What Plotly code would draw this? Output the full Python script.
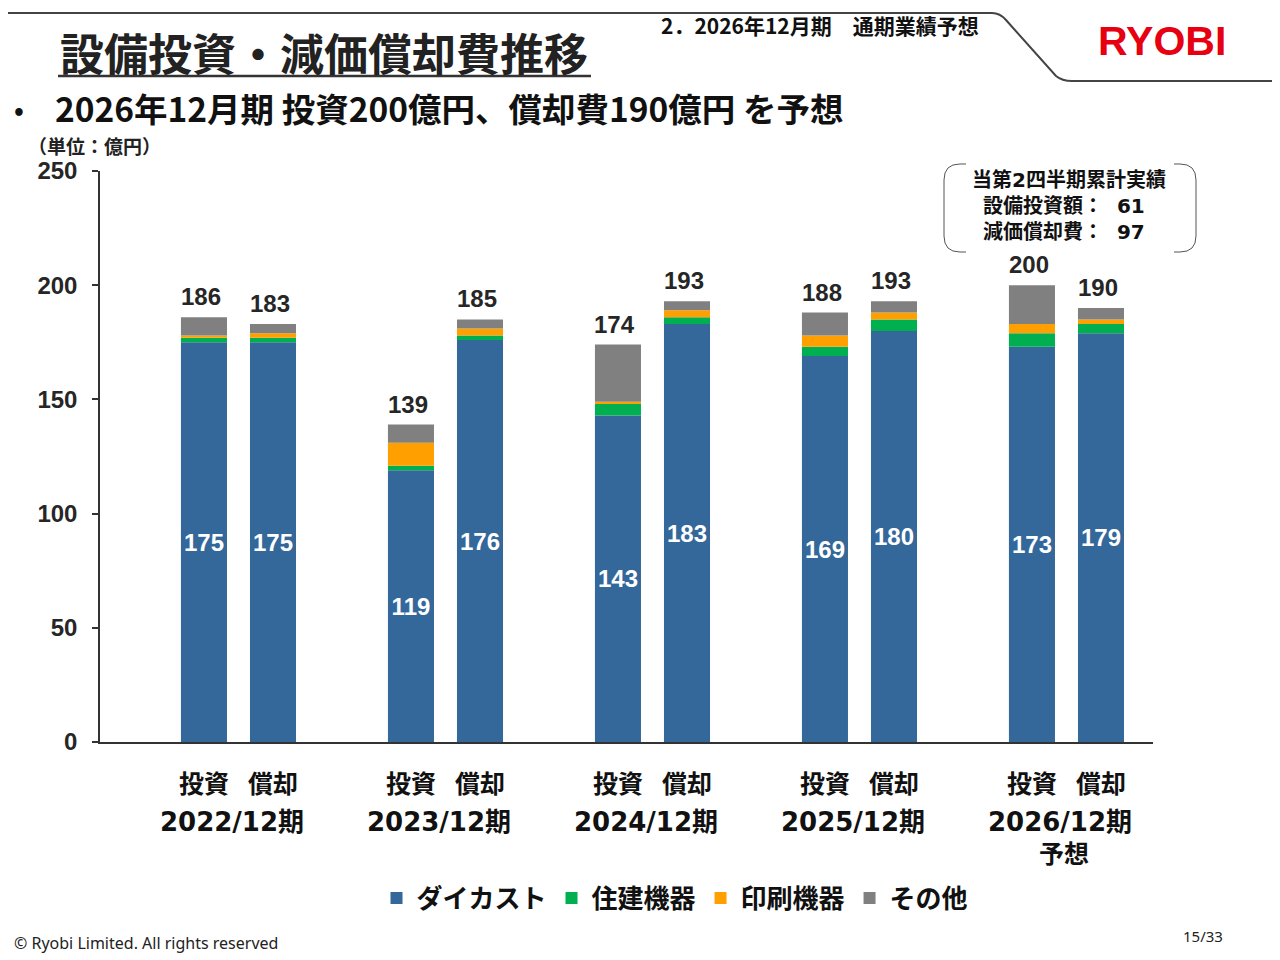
import plotly.graph_objects as go

# ---------------- data ----------------
years = ["2022/12期", "2023/12期", "2024/12期", "2025/12期", "2026/12期"]
year_notes = ["", "", "", "", "予想"]
kinds = ["投資", "償却"]
segments = ["ダイカスト", "住建機器", "印刷機器", "その他"]

inv_diecast = [175, 119, 143, 169, 173]
inv_housing = [2, 2, 5, 4, 6]
inv_printing = [1, 10, 1, 5, 4]
inv_other = [8, 8, 25, 10, 17]
inv_total = [186, 139, 174, 188, 200]

dep_diecast = [175, 176, 183, 180, 179]
dep_housing = [2, 2, 3, 5, 4]
dep_printing = [2, 3, 3, 3, 2]
dep_other = [4, 4, 4, 5, 5]
dep_total = [183, 185, 193, 193, 190]

y_ticks = [0, 50, 100, 150, 200, 250]

box_lines = ["当第2四半期累計実績", "設備投資額：  61", "減価償却費：  97"]

# ---------------- styles ----------------
colors = ["#34679A", "#00B050", "#FFA000", "#808080"]
JP = "Noto Sans CJK JP"
NUM = "Liberation Sans"
WIDE = "DejaVu Sans, Noto Sans CJK JP"
DARK = "#262626"

# page has an 8px body margin: figure coords = page coords - 8
W, H = 1272, 952
L, T = 92, 163
R = W - (1153 - 8)
B = H - (742 - 8)


def px(x):  # page pixel -> paper
    return (x - 100) / 1053


def py(y):
    return (742 - y) / 571


fig = go.Figure()

series = {
    "投資": [inv_diecast, inv_housing, inv_printing, inv_other],
    "償却": [dep_diecast, dep_housing, dep_printing, dep_other],
}

for k_i, kind in enumerate(kinds):
    base = [0] * len(years)
    for s_i, seg in enumerate(segments):
        vals = series[kind][s_i]
        fig.add_trace(go.Bar(
            x=years, y=vals, base=list(base),
            offsetgroup=kind, name=seg, legendgroup=seg,
            showlegend=(k_i == 0),
            marker=dict(color=colors[s_i], line=dict(width=0)),
            text=[str(v) for v in vals] if s_i == 0 else None,
            textposition="inside" if s_i == 0 else "none",
            insidetextanchor="middle", textangle=0, constraintext="none",
            textfont=dict(family=NUM, size=24, color="white", weight="bold"),
            hoverinfo="skip",
        ))
        base = [b + v for b, v in zip(base, vals)]

annotations = []
totals = {"投資": inv_total, "償却": dep_total}
shift = {"投資": -34.5, "償却": 34.5}
for kind in kinds:
    for yr, tot in zip(years, totals[kind]):
        annotations.append(dict(
            x=yr, y=tot, xref="x", yref="y", xshift=shift[kind] - 3, yshift=5,
            yanchor="bottom", showarrow=False, text=str(tot),
            font=dict(family=NUM, size=24, color=DARK, weight="bold")))
    for yr in years:
        annotations.append(dict(
            x=yr, y=0, xref="x", yref="y", xshift=shift[kind], yshift=-40,
            yanchor="middle", showarrow=False, text=kind,
            font=dict(family=JP, size=25, color="#111", weight="bold")))

for yr, note in zip(years, year_notes):
    annotations.append(dict(
        x=yr, y=0, xref="x", yref="y", xshift=-6, yshift=-80,
        yanchor="middle", showarrow=False, text=yr,
        font=dict(family=WIDE, size=26, color="#111", weight="bold")))
    if note:
        annotations.append(dict(
            x=yr, y=0, xref="x", yref="y", xshift=-2, yshift=-112,
            yanchor="middle", showarrow=False, text=note,
            font=dict(family=WIDE, size=25, color="#111", weight="bold")))

# header / notes
annotations += [
    dict(x=px(58), y=py(52), xref="paper", yref="paper", xanchor="left", yanchor="middle",
         showarrow=False, text="設備投資・減価償却費推移",
         font=dict(family=JP, size=44, color="#222", weight="bold")),
    dict(x=px(659), y=py(25), xref="paper", yref="paper", xanchor="left", yanchor="middle",
         showarrow=False, text="2．2026年12月期　通期業績予想",
         font=dict(family=JP, size=21, color="#111", weight="bold")),
    dict(x=px(1162), y=py(41), xref="paper", yref="paper", xanchor="center", yanchor="middle",
         showarrow=False, text="RYOBI",
         font=dict(family=NUM, size=41, color="#E60012", weight="bold")),
    dict(x=px(12), y=py(108), xref="paper", yref="paper", xanchor="left", yanchor="middle",
         showarrow=False, text="•",
         font=dict(family=JP, size=26, color="#111", weight="bold")),
    dict(x=px(53), y=py(107), xref="paper", yref="paper", xanchor="left", yanchor="middle",
         showarrow=False, text="2026年12月期 投資200億円、償却費190億円 を予想",
         font=dict(family=JP, size=33.5, color="#111", weight="bold")),
    dict(x=px(26), y=py(146), xref="paper", yref="paper", xanchor="left", yanchor="middle",
         showarrow=False, text="（単位：億円）",
         font=dict(family=JP, size=19, color="#222", weight="bold")),
    dict(x=px(12), y=py(943), xref="paper", yref="paper", xanchor="left", yanchor="middle",
         showarrow=False, text="© Ryobi Limited. All rights reserved",
         font=dict(family="Noto Sans", size=16, color="#222")),
    dict(x=px(1225), y=py(936), xref="paper", yref="paper", xanchor="right", yanchor="middle",
         showarrow=False, text="15/33",
         font=dict(family="Noto Sans", size=15, color="#222")),
]
for i, (line, yy) in enumerate(zip(box_lines, [180, 206, 232])):
    annotations.append(dict(
        x=px(1069 if i == 0 else 1064), y=py(yy), xref="paper", yref="paper",
        xanchor="center", yanchor="middle", showarrow=False, text=line,
        font=dict(family=WIDE, size=20, color="#111", weight="bold")))


def P(x, y):
    return f"{px(x):.5f},{py(y):.5f}"


shapes = [
    # header line
    dict(type="path", xref="paper", yref="paper",
         path=f"M {P(0,13)} L {P(992,13)} Q {P(1000,13)} {P(1006,20)} L {P(1056,76)} "
              f"Q {P(1062,81)} {P(1072,81)} L {P(1290,81)}",
         line=dict(color="#444", width=2)),
    # title underline
    dict(type="line", xref="paper", yref="paper", x0=px(58), x1=px(591), y0=py(76), y1=py(76),
         line=dict(color="#333", width=2.5)),
    # box brackets
    dict(type="path", xref="paper", yref="paper",
         path=f"M {P(966,164)} L {P(960,164)} Q {P(944,164)} {P(944,180)} L {P(944,236)} "
              f"Q {P(944,252)} {P(960,252)} L {P(966,252)}",
         line=dict(color="#555", width=1)),
    dict(type="path", xref="paper", yref="paper",
         path=f"M {P(1174,164)} L {P(1180,164)} Q {P(1196,164)} {P(1196,180)} L {P(1196,236)} "
              f"Q {P(1196,252)} {P(1180,252)} L {P(1174,252)}",
         line=dict(color="#555", width=1)),
]

fig.update_layout(
    width=W, height=H,
    margin=dict(l=L, r=R, t=T, b=B),
    paper_bgcolor="white", plot_bgcolor="white",
    barmode="group", bargap=0.333, bargroupgap=0.333,
    xaxis=dict(type="category", range=[-0.669, 4.418], showticklabels=False, ticks="",
               showline=True, linecolor="#333", linewidth=1.5, showgrid=False, zeroline=False,
               fixedrange=True),
    yaxis=dict(range=[0, 250], tickvals=y_ticks, ticks="outside", ticklen=6, tickcolor="#333",
               tickwidth=1.5, showline=True, linecolor="#333", linewidth=1.5, showgrid=False,
               zeroline=False, ticklabelstandoff=10,
               tickfont=dict(family=NUM, size=24, color=DARK, weight="bold")),
    legend=dict(orientation="h", x=px(675), xanchor="center", y=py(898), yanchor="middle",
                traceorder="normal", font=dict(family=JP, size=26, color="#111", weight="bold"),
                itemwidth=30, bgcolor="rgba(0,0,0,0)"),
    annotations=annotations,
    shapes=shapes,
    showlegend=True,
)

fig.write_html("out.html")
